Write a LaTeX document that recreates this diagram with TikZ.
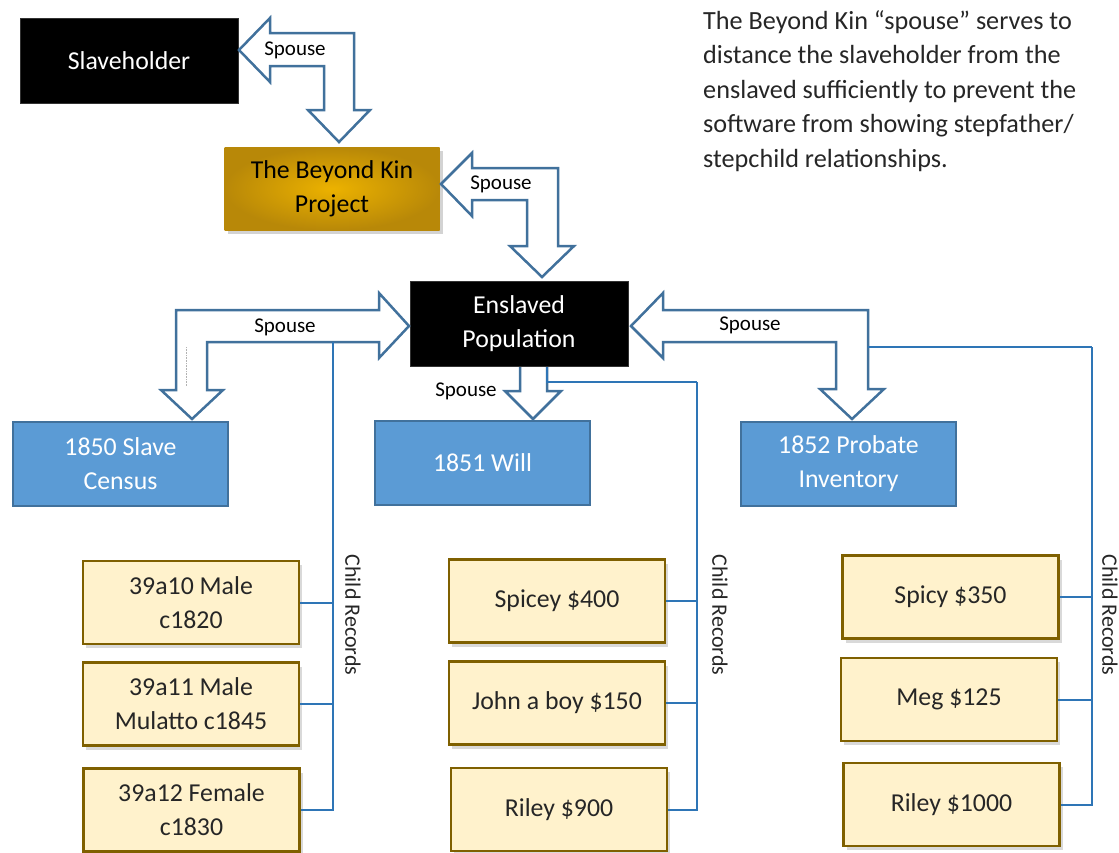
\documentclass[tikz,border=0pt]{standalone}
\usepackage{fontspec}
\setmainfont{Carlito}
\usetikzlibrary{positioning,shadows}

\definecolor{arrowblue}{RGB}{65,113,156}
\definecolor{linkblue}{RGB}{46,117,182}
\definecolor{boxblue}{RGB}{91,155,213}
\definecolor{childfill}{RGB}{255,242,204}
\definecolor{childedge}{RGB}{127,96,0}
\definecolor{goldlight}{RGB}{236,178,0}
\definecolor{golddark}{RGB}{184,136,8}
\definecolor{notegray}{RGB}{38,38,38}

\tikzset{
  boxtext/.style={align=center, font=\fontsize{25.8}{34}\selectfont},
  darkbox/.style={boxtext, rectangle, fill=black, draw=black!80, text=white,
    minimum width=218pt, minimum height=85pt, inner sep=0pt},
  goldbox/.style={boxtext, rectangle, inner color=goldlight, outer color=golddark,
    text=black, minimum width=215pt, minimum height=83pt, inner sep=0pt,
    drop shadow={shadow xshift=3pt, shadow yshift=-4pt, opacity=0.35}},
  recbox/.style={boxtext, rectangle, fill=boxblue, draw=arrowblue, line width=2pt,
    text=white, minimum width=215pt, minimum height=84pt, inner sep=0pt},
  childbox/.style={boxtext, rectangle, fill=childfill, draw=childedge, line width=2.5pt,
    text=notegray, minimum width=216pt, minimum height=83pt, inner sep=0pt,
    drop shadow={shadow xshift=3pt, shadow yshift=-4pt, opacity=0.3}},
  spousearrow/.style={draw=arrowblue, fill=white, line width=2.5pt, line join=miter},
  spouselbl/.style={font=\fontsize{21}{24}\selectfont, text=black, inner sep=1pt},
  childlbl/.style={font=\fontsize{22}{25}\selectfont, text=notegray, rotate=-90, inner sep=0pt},
  link/.style={draw=linkblue, line width=2pt}
}

\begin{document}
\begin{tikzpicture}[x=1pt,y=-1pt]
\useasboundingbox (0,0) rectangle (1119,852);

% upper chain
\node[darkbox] (slave) at (129,60.5) {Slaveholder};
\node[goldbox] (kin) at (332,188.5) {The Beyond Kin\\Project};
\node[darkbox] (pop) at (519,323.5) {Enslaved\\Population};

% record boxes
\node[recbox] (census) at (120.5,464) {1850 Slave\\Census};
\node[recbox] (will) at (482.5,463) {1851 Will};
\node[recbox] (probate) at (848.5,464) {1852 Probate\\Inventory};

% child boxes
\foreach \name/\x/\y/\txt in {c10/191/602.5/{39a10 Male\\c1820},
    c11/191/704/{39a11 Male\\Mulatto c1845},
    c12/191.5/810/{39a12 Female\\c1830},
    sp400/557/601/{Spicey \$400},
    john/557/703/{John a boy \$150},
    ril900/559/809.5/{Riley \$900},
    sp350/950.5/597/{Spicy \$350},
    meg/949/699.5/{Meg \$125},
    ril1000/951.5/804.5/{Riley \$1000}} {
    \node[childbox] (\name) at (\x,\y) {\txt};
}

% spouse arrows
\draw[spousearrow] (239,50) -- (270,18) -- (270,33) -- (354,33) -- (354,110) -- (370,110)
  -- (339,142) -- (308,110) -- (324,110) -- (324,66) -- (270,66) -- (270,82) -- cycle;
\draw[spousearrow] (441,184) -- (472,153) -- (472,168) -- (558,168) -- (558,246) -- (574,246)
  -- (542,277) -- (510,246) -- (527,246) -- (527,200) -- (472,200) -- (472,216) -- cycle;
\draw[spousearrow] (409,326) -- (379,293) -- (379,310) -- (176,310) -- (176,390) -- (161,390)
  -- (192,419) -- (223,390) -- (207,390) -- (207,342) -- (379,342) -- (379,358) -- cycle;
\draw[spousearrow] (631,326) -- (663,293) -- (663,310) -- (868,310) -- (868,389) -- (884,389)
  -- (852,419) -- (820,389) -- (836,389) -- (836,342) -- (663,342) -- (663,358) -- cycle;
\draw[spousearrow] (520,367) -- (520,391) -- (505,391) -- (533,419) -- (561,391) -- (547,391)
  -- (547,367);
\draw[gray!60, densely dotted, line width=0.6pt] (186,347) -- (186,386);

\node[spouselbl] (sl1) at (295,50) {Spouse};
\node[spouselbl] (sl2) at (501,184) {Spouse};
\node[spouselbl] (sl3) at (285,327) {Spouse};
\node[spouselbl] (sl4) at (466,391) {Spouse};
\node[spouselbl] (sl5) at (750,325) {Spouse};

% child record links
\coordinate (censusbus) at (333,342);
\foreach \c in {c10,c11,c12} {
    \draw[link] (censusbus) |- (\c.east);
}
\coordinate (willtop) at (547,367);
\coordinate (willbus) at (697,382);
\draw[link] (willtop) |- (willbus);
\foreach \c in {sp400,john,ril900} {
    \draw[link] (willbus) |- (\c.east);
}
\coordinate (invtop) at (868,347);
\coordinate (invbus) at (1092,347);
\draw[link] (invtop) -- (invbus);
\foreach \c in {sp350,meg,ril1000} {
    \draw[link] (invbus) |- (\c.east);
}

\node[childlbl] (cr1) at (353,615) {Child Records};
\node[childlbl] (cr2) at (720,615) {Child Records};
\node[childlbl] (cr3) at (1110,615) {Child Records};

% note
\node[anchor=north west, align=left, inner sep=0pt, text=notegray,
  font=\fontsize{26.2}{34.5}\selectfont] (note) at (703,10)
  {The Beyond Kin “spouse” serves to\\distance the slaveholder from the\\enslaved sufficiently to prevent the\\software from showing stepfather/\\stepchild relationships.};
\end{tikzpicture}
\end{document}
